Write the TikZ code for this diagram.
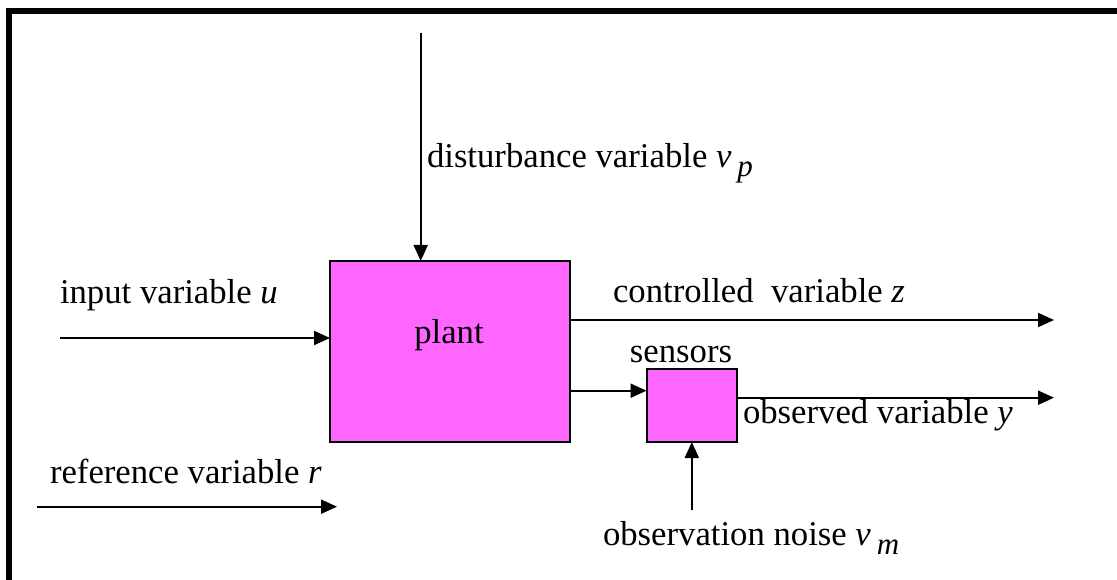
\documentclass[tikz,border=0pt]{standalone}
\usepackage{fontspec}
\setmainfont{Liberation Serif}
\usetikzlibrary{arrows.meta}
\definecolor{blockfill}{RGB}{255,102,255}
\newcommand{\lowsub}[1]{\hspace{6pt}\raisebox{-9pt}{\fontsize{31}{36}\selectfont\textit{#1}}}
\begin{document}
\begin{tikzpicture}[x=1pt,y=-1pt,
  every node/.style={font=\fontsize{34.7}{40}\selectfont, inner sep=0pt, outer sep=0pt},
  block/.style={draw=black, line width=2pt, fill=blockfill},
  arr/.style={line width=2pt, -{Triangle[length=16pt,width=14pt]}},
  lbl/.style={anchor=base west}]
\useasboundingbox (0,0) rectangle (1117,580);
% frame along the top and left edges
\fill[black] (6,8) rectangle (1117,14);
\fill[black] (6,8) rectangle (12,580);

% blocks
\node[block, minimum width=240pt, minimum height=181pt] (plant) at (450,351.5) {};
\node[anchor=base] (plantlbl) at (449,343) {plant};
\node[block, minimum width=90.5pt, minimum height=73pt] (sens) at (691.8,405.5) {};
\node[anchor=base] (senslbl) at (681,362) {sensors};

% free ends of the signals
\coordinate (uin) at (60,338);
\coordinate (rin) at (37,506.7);
\coordinate (rend) at (337,506.7);
\coordinate (vp) at (420.7,33);
\coordinate (zout) at (1054,320);
\coordinate (yout) at (1054,397.7);
\coordinate (vm) at (691.8,510);
\coordinate (pout) at (570,390.7);

% signals
\draw[arr] (uin) -- (uin -| plant.west);
\draw[arr] (rin) -- (rend);
\draw[arr] (vp) -- (vp |- plant.north);
\draw[arr] (zout -| plant.east) -- (zout);
\draw[arr] (pout -| plant.east) -- (pout -| sens.west);
\draw[arr] (yout -| sens.east) -- (yout);
\draw[arr] (vm) -- (sens.south);

% labels
\node[lbl] (ulbl) at (60,303) {input variable \textit{u}};
\node[lbl] (rlbl) at (50,483) {reference variable \textit{r}};
\node[lbl] (vplbl) at (427,168) {disturbance variable \textit{v}\lowsub{p}};
\node[lbl] (zlbl) at (613,302) {controlled\ \ variable \textit{z}};
\node[lbl] (ylbl) at (743,423) {observed variable \textit{y}};
\node[lbl] (vmlbl) at (603,545) {observation noise \textit{v}\lowsub{m}};
\end{tikzpicture}
\end{document}
